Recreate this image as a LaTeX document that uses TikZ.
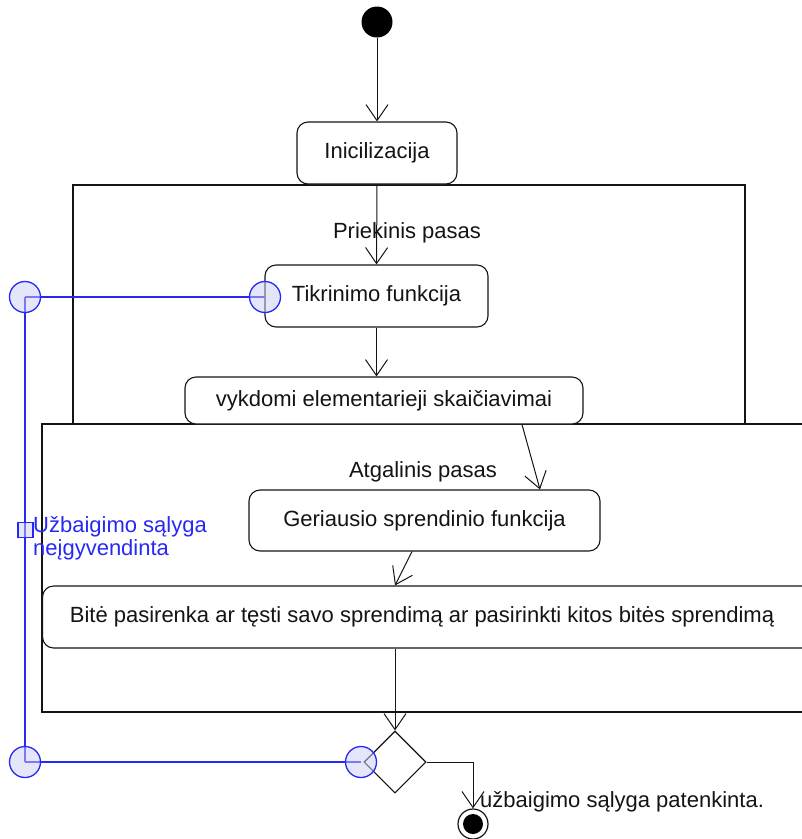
\documentclass[tikz,border=0pt]{standalone}
\usepackage{fontspec}
\setmainfont{Liberation Sans}
\usetikzlibrary{arrows.meta,shapes.geometric}
\definecolor{flowblue}{RGB}{40,40,245}
\definecolor{portfill}{RGB}{205,205,245}
\definecolor{ink}{RGB}{20,20,20}
\begin{document}
\begin{tikzpicture}[x=1pt,y=-1pt,
  every node/.style={font=\fontsize{22}{23}\selectfont, text=ink},
  action/.style={draw=ink, line width=1.1pt, rounded corners=11pt, fill=white, inner sep=0pt},
  region/.style={draw=ink, line width=1.2pt},
  flow/.style={draw=ink, line width=1pt, -{Straight Barb[length=16pt,width=22pt,line width=1pt]}},
  plain/.style={draw=ink, line width=1pt},
  port/.style={circle, draw=flowblue, fill=portfill, fill opacity=0.5, line width=1.3pt, minimum size=31pt, inner sep=0pt},
  pin/.style={rectangle, draw=flowblue, fill=portfill, fill opacity=0.5, line width=1.1pt, minimum width=15pt, minimum height=15pt, inner sep=0pt},
  bluewire/.style={draw=flowblue, line width=1.5pt}
]
\useasboundingbox (0,0) rectangle (802,839);
\clip (0,0) rectangle (802,839);

% interruptible regions
\draw[region] (73,185) rectangle (745,424);
\draw[region] (42,424) rectangle (830,712);
\node[anchor=base] (fwd) at (407,238) {Priekinis pasas};
\node[anchor=base] (bwd) at (423,477) {Atgalinis pasas};

% start and end
\node[circle, fill=black, minimum size=31pt, inner sep=0pt] (start) at (377,22) {};
\node[circle, draw=ink, line width=1.2pt, minimum size=30pt, inner sep=0pt, fill=white] (final) at (473,824) {};
\node[circle, fill=black, minimum size=20pt, inner sep=0pt] (finaldot) at (473,824) {};

% actions
\node[action, minimum width=160pt, minimum height=62pt] (init) at (377,153) {Inicilizacija};
\node[action, minimum width=223pt, minimum height=62pt] (check) at (376.5,296) {Tikrinimo funkcija};
\node[action, minimum width=398pt, minimum height=47pt] (calc) at (384,400.5) {vykdomi elementarieji skaičiavimai};
\node[action, minimum width=351pt, minimum height=61pt] (best) at (424.5,520.5) {Geriausio sprendinio funkcija};
\node[action, minimum width=790pt, minimum height=62pt, anchor=west] (choose) at (42,617) {};
\node (choosetext) at (422,617) {Bitė pasirenka ar tęsti savo sprendimą ar pasirinkti kitos bitės sprendimą};

% decision
\node[diamond, draw=ink, line width=1.1pt, fill=white, minimum width=62pt, minimum height=62pt, inner sep=0pt, aspect=1] (dec) at (395,762) {};

% control flow
\draw[flow] (start) -- (init);
\draw[flow] (init.south) -- (check.north);
\draw[flow] (check.south) -- (calc.north -| check.south);
\draw[flow] (calc.south -| 522,0) -- (best.north -| 540,0);
\draw[flow] (best.south -| 412,0) -- (choose.north -| 395,0);
\draw[flow] (choose.south -| dec.north) -- (dec.north);
\coordinate (bend) at (473,762);
\draw[plain] (dec.east) -- (bend);
\draw[flow] (bend) -- (final.north);
\node[anchor=base west, inner sep=0pt] (donelbl) at (480,807) {užbaigimo sąlyga patenkinta.};

% interrupting edge
\coordinate (c1) at (25,297);
\coordinate (c2) at (265,297);
\coordinate (c3) at (25,762);
\coordinate (c4) at (361,762);
\draw[bluewire] (c1) -- (c2);
\draw[bluewire] (c1) -- (c3);
\draw[bluewire] (c3) -- (c4);
\node[port] (p1) at (c1) {};
\node[port] (p2) at (c2) {};
\node[port] (p3) at (c3) {};
\node[port] (p4) at (c4) {};
\node[pin] (sq) at (25.5,530) {};
\node[anchor=base west, align=left, text=flowblue, inner sep=0pt] (intlbl) at (33,555) {Užbaigimo sąlyga\\neįgyvendinta};
\end{tikzpicture}
\end{document}
